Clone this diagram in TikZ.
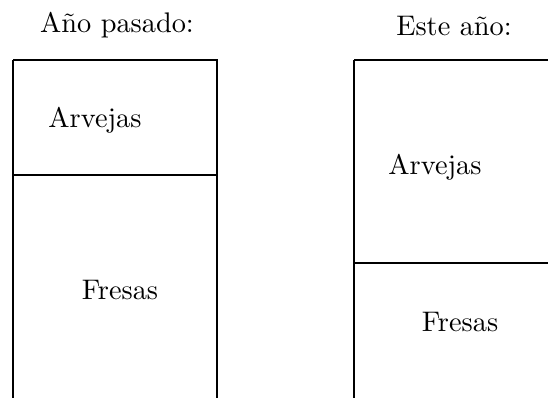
\documentclass[tikz,border=0pt]{standalone}
\usepackage{tikz}
\usetikzlibrary{calc}
\tikzset{plot/.style={line width=0.8pt}}
\tikzset{label/.style={anchor=base, scale=1.03}}

\begin{document}
\begin{tikzpicture}[x=0.3636pt,y=-0.3636pt]
	\useasboundingbox (0,0) rectangle (548,398);
	\clip (0,0) rectangle (548,398);

	\coordinate (A) at (13,60);
	\coordinate (B) at (217,60);
	\coordinate (C) at (13,175);
	\coordinate (D) at (217,175);
	\coordinate (E) at (354,60);
	\coordinate (F) at (354,263);

	\draw[plot] (A) -- (B) -- ++(0,360);
	\draw[plot] (A) -- ++(0,360);
	\draw[plot] (C) -- (D);
	\draw[plot] (E) -- ++(220,0);
	\draw[plot] (E) -- ++(0,360);
	\draw[plot] (F) -- ++(220,0);

	\node[label] (tA) at (117,33) {A\~no pasado:};
	\node[label] (tB) at (454,36) {Este a\~no:};
	\node[label] (aA) at (95,128) {Arvejas};
	\node[label] (fA) at (120,300) {Fresas};
	\node[label] (aB) at (435,175) {Arvejas};
	\node[label] (fB) at (460,332) {Fresas};
\end{tikzpicture}
\end{document}
